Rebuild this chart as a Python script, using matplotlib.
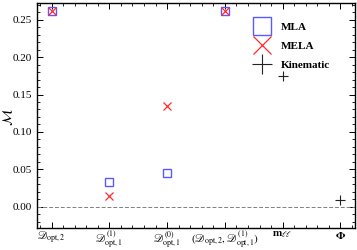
import matplotlib
matplotlib.use("Agg")
import matplotlib.pyplot as plt
from matplotlib.ticker import MultipleLocator

plt.rcParams['font.family'] = ['Liberation Serif', 'DejaVu Serif']
plt.rcParams['mathtext.fontset'] = 'stix'

x_labels = [r'$\mathscr{D}_{\rm opt,2}$', r'$\mathscr{D}^{(1)}_{\rm opt,1}$',
            r'$\mathscr{D}^{(0)}_{\rm opt,1}$',
            r'$(\mathscr{D}_{\rm opt,2},\mathscr{D}^{(1)}_{\rm opt,1})$',
            r'$\mathbf{m}_{\ell\ell}$', r'$\mathbf{\Phi}$']
mla_x = [0, 1, 2, 3]
mla_y = [0.262, 0.033, 0.045, 0.262]
mela_x = [0, 1, 2, 3]
mela_y = [0.262, 0.014, 0.135, 0.262]
kin_x = [4, 5]
kin_y = [0.175, 0.009]

fig = plt.figure(figsize=(3.57, 2.5), dpi=100)
ax = fig.add_axes([0.104, 0.09, 0.890, 0.898])

ax.axhline(0, color='gray', ls='--', lw=0.7, dashes=(4, 2))
ax.plot(mla_x, mla_y, ls='none', marker='s', ms=6, mfc='none', mec='#5a5aff',
        mew=1.0, label='MLA')
ax.plot(mela_x, mela_y, ls='none', marker='x', ms=6, mec='#ff2a2a', mew=0.9,
        label='MELA')
ax.plot(kin_x, kin_y, ls='none', marker='+', ms=6.5, mec='#222222', mew=0.8,
        label='Kinematic')

ax.set_xlim(-0.25, 5.25)
ax.set_ylim(-0.028, 0.2725)
ax.set_xticks(range(len(x_labels)))
ax.set_xticklabels(x_labels, fontsize=8)
ax.xaxis.set_minor_locator(MultipleLocator(0.2))
ax.yaxis.set_major_locator(MultipleLocator(0.05))
ax.yaxis.set_minor_locator(MultipleLocator(0.01))
ax.yaxis.set_major_formatter(matplotlib.ticker.FormatStrFormatter('%.2f'))
ax.tick_params(which='both', direction='in', top=True, right=True, labelsize=8)
ax.tick_params(which='major', length=4, width=0.7)
ax.tick_params(which='minor', length=2, width=0.6)
ax.tick_params(axis='x', pad=1.5)
for s in ax.spines.values():
    s.set_linewidth(1.0)
fig.text(8 / 357, 0.53, r'$\mathcal{M}$', fontsize=10, rotation=90,
         ha='center', va='center')

leg = ax.legend(loc='upper right', bbox_to_anchor=(0.955, 0.96), frameon=False,
                markerscale=2.2, fontsize=8, handlelength=1.2, handletextpad=1.1,
                labelspacing=0.85)
for t in leg.get_texts():
    t.set_fontweight('bold')

fig.savefig('out.png', dpi=100)
